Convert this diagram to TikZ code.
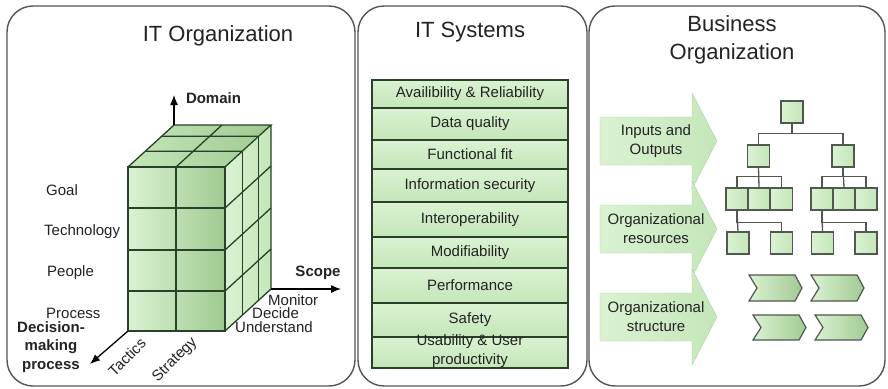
\documentclass[tikz,border=0pt]{standalone}
\usepackage{fontspec}
\setmainfont{Liberation Sans}
\usetikzlibrary{arrows.meta}
\definecolor{frame}{RGB}{85,85,85}
\definecolor{gL}{RGB}{218,242,210}
\definecolor{gM}{RGB}{196,230,185}
\definecolor{gD}{RGB}{160,202,146}
\definecolor{cubeline}{RGB}{40,65,40}
\definecolor{txt}{RGB}{35,35,35}
\definecolor{orgline}{RGB}{80,88,80}
\begin{document}
\begin{tikzpicture}[x=1pt,y=-1pt, every node/.style={text=txt, inner sep=0pt}]
\tikzset{
 panel/.style={draw=frame, line width=1.4pt, rounded corners=26pt, fill=white},
 title/.style={font=\fontsize{22}{28}\selectfont, align=center},
 lbl/.style={font=\fontsize{15}{19}\selectfont},
 bl/.style={font=\bfseries\fontsize{15}{18.5}\selectfont, align=center},
 gridline/.style={draw=cubeline, line width=1.3pt},
 qbox/.style={draw=cubeline, line width=1.4pt, top color=gL, bottom color=gM, minimum width=196pt, font=\fontsize{15}{19}\selectfont, align=center},
 orgbox/.style={draw=orgline, line width=1.2pt, left color=gL, right color=gM, minimum width=22pt, minimum height=22pt},
 orgedge/.style={draw=orgline, line width=1.3pt},
 bigarrow/.style={left color=gL, right color=gM, draw=gM!90!black, line width=0.4pt},
 chev/.style={draw=orgline, line width=1.2pt, left color=gL, right color=gD},
 axisarrow/.style={draw=black, line width=1.3pt, -{Latex[length=10pt,width=8pt]}},
}
\useasboundingbox (0,0) rectangle (888,388);
% panels
\draw[panel] (7,6) rectangle (355,386);
\draw[panel] (358,6) rectangle (587,386);
\draw[panel] (589,6) rectangle (885,386);
% titles
\node[title] (t1) at (218,36) {IT Organization};
\node[title] (t2) at (470,32) {IT Systems};
\node[title] (t3) at (732,40) {Business\\Organization};

% ---------- cube ----------
\path[left color=gL, right color=gD] (128,167) rectangle (225,331);
\path[left color=gM, right color=gD] (128,167) -- (225,167) -- (271,125) -- (174,125) -- cycle;
\path[left color=gL, right color=gM] (225,167) -- (271,125) -- (271,289) -- (225,331) -- cycle;
% front grid
\draw[gridline] (128,167) rectangle (225,331);
\draw[gridline] (128,208) -- (225,208) (128,250) -- (225,250) (128,291) -- (225,291) (176,167) -- (176,331);
% top grid
\draw[gridline] (128,167) -- (174,125) -- (271,125) -- (225,167);
\draw[gridline] (176,167) -- (222,125) (145.25,151.25) -- (242.25,151.25) (161.6,136.3) -- (258.6,136.3);
% right grid
\draw[gridline] (271,125) -- (271,289) -- (225,331);
\draw[gridline] (242.25,151.25) -- (242.25,315.25) (258.6,136.3) -- (258.6,300.3);
\draw[gridline] (225,208) -- (271,166) (225,250) -- (271,208) (225,291) -- (271,249);
% axes
\coordinate (oD) at (174,125);
\coordinate (eD) at (174,95);
\coordinate (oS) at (271,289);
\coordinate (eS) at (341,289);
\coordinate (oM) at (128,331);
\coordinate (eM) at (90,364);
\draw[axisarrow] (oD) -- (eD);
\draw[axisarrow] (oS) -- (eS);
\draw[axisarrow] (oM) -- (eM);
\node[bl] (domain) at (213.5,98) {Domain};
\node[bl] (scope) at (318,273) {Scope};
\node[bl] (dmp) at (51,347) {Decision-\\making\\process};
% labels
\node[lbl, anchor=west] (goal) at (46,190) {Goal};
\node[lbl, anchor=west] (tech) at (44,232) {Technology};
\node[lbl, anchor=west] (people) at (47,273) {People};
\node[lbl, anchor=west] (process) at (46,313) {Process};
\node[lbl, anchor=west] (monitor) at (268,300) {Monitor};
\node[lbl, anchor=west] (decide) at (252,313) {Decide};
\node[lbl, anchor=west] (understand) at (235,327) {Understand};
\node[lbl, rotate=45] (tactics) at (127,357) {Tactics};
\node[lbl, rotate=45] (strategy) at (175,360) {Strategy};

% ---------- IT systems ----------
\node[qbox, minimum height=28pt] (q1) at (470,94) {Availibility \& Reliability};
\node[qbox, minimum height=32pt] (q2) at (470,124) {Data quality};
\node[qbox, minimum height=29pt] (q3) at (470,154.5) {Functional fit};
\node[qbox, minimum height=33pt] (q4) at (470,185.5) {Information security};
\node[qbox, minimum height=35pt] (q5) at (470,219.5) {Interoperability};
\node[qbox, minimum height=31pt] (q6) at (470,252.5) {Modifiability};
\node[qbox, minimum height=35pt] (q7) at (470,285.5) {Performance};
\node[qbox, minimum height=34pt] (q8) at (470,320) {Safety};
\node[qbox, minimum height=31pt] (q9) at (470,352.5) {};
\node[lbl, align=center] (q9t) at (470,351) {Usability \& User\\productivity};

% ---------- business ----------
\path[bigarrow] (600,117) -- (692,117) -- (692,93) -- (717,141) -- (692,189) -- (692,165) -- (600,165) -- cycle;
\node[lbl, align=center] (io) at (656,141) {Inputs and\\Outputs};
\path[bigarrow] (600,205) -- (692,205) -- (692,181) -- (717,229) -- (692,277) -- (692,253) -- (600,253) -- cycle;
\node[lbl, align=center] (ores) at (656,229) {Organizational\\resources};
\path[bigarrow] (600,293) -- (692,293) -- (692,269) -- (717,317) -- (692,365) -- (692,341) -- (600,341) -- cycle;
\node[lbl, align=center] (ostr) at (656,317) {Organizational\\structure};

% org chart
\node[orgbox] (top) at (792,112) {};
\node[orgbox] (a) at (758.5,156) {};
\node[orgbox] (b) at (843,156) {};
\node[orgbox] (a1) at (737,199) {};
\node[orgbox] (a2) at (759,199) {};
\node[orgbox] (a3) at (781.5,199) {};
\node[orgbox] (b1) at (822,199) {};
\node[orgbox] (b2) at (844,199) {};
\node[orgbox] (b3) at (866,199) {};
\node[orgbox] (a11) at (738,243) {};
\node[orgbox] (a12) at (781.5,243) {};
\node[orgbox] (b11) at (822.5,243) {};
\node[orgbox] (b12) at (866,243) {};
\draw[orgedge] (top.south) -- ++(0,10) -| (a.north);
\draw[orgedge] (top.south) -- ++(0,10) -| (b.north);
\draw[orgedge] (a.south) -- ++(0,9) -| (a1.north);
\draw[orgedge] (a.south) -- ++(0,9) -| (a3.north);
\draw[orgedge] (a.south) -- (a2.north);
\draw[orgedge] (b.south) -- ++(0,9) -| (b1.north);
\draw[orgedge] (b.south) -- ++(0,9) -| (b3.north);
\draw[orgedge] (b.south) -- (b2.north);
\draw[orgedge] (a1.south) -- ++(0,12) -| (a12.north);
\draw[orgedge] (a1.south) -- (a11.north);
\draw[orgedge] (b1.south) -- ++(0,12) -| (b12.north);
\draw[orgedge] (b1.south) -- (b11.north);

% chevrons
\path[chev] (749,275) -- (795,275) -- (802,288) -- (795,301) -- (749,301) -- (757,288) -- cycle;
\path[chev] (811,275) -- (857,275) -- (864,288) -- (857,301) -- (811,301) -- (819,288) -- cycle;
\path[chev] (753,315) -- (799,315) -- (806,327.5) -- (799,340) -- (753,340) -- (761,327.5) -- cycle;
\path[chev] (815,315) -- (861,315) -- (868,327.5) -- (861,340) -- (815,340) -- (823,327.5) -- cycle;
\end{tikzpicture}
\end{document}
